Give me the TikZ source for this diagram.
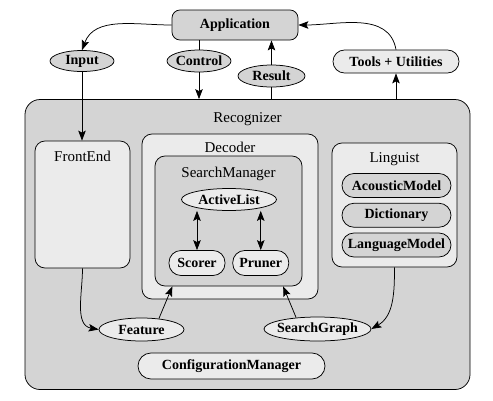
\documentclass[tikz,border=0pt]{standalone}
\usepackage{fontspec}
\setmainfont{Liberation Serif}
\usetikzlibrary{arrows.meta,positioning,calc,shapes.geometric}

\definecolor{darkfill}{gray}{0.83}
\definecolor{litefill}{gray}{0.92}

\begin{document}
\begin{tikzpicture}[x=1pt, y=-1pt, ->, >={Stealth[length=10pt,width=7.5pt,inset=2pt]}, line width=0.75pt, node distance=5pt]
		\tikzstyle{pane}=[draw, rectangle, rounded corners=10pt, fill=litefill]
		\tikzstyle{title}=[anchor=north, yshift=-7pt, font=\fontsize{15}{17}\selectfont]
		\tikzstyle{blob}=[draw, ellipse, inner xsep=-4pt, inner ysep=0pt, fill=darkfill, font=\bfseries\fontsize{14}{16}\selectfont]
		\tikzstyle{pill}=[draw, rectangle, rounded corners=12pt, fill=darkfill, font=\bfseries\fontsize{14}{16}\selectfont]
		\useasboundingbox (0,0) rectangle (493,400);
		% containers
		\node[pane, rounded corners=15pt, fill=darkfill, minimum width=445pt, minimum height=290pt,
			label={[title, yshift=-3pt]north:Recognizer}] (rec) at (247.5,244.5) {};
		\node[pane, minimum width=95pt, minimum height=127pt, label={[title]north:FrontEnd}] (fe) at (82.5,204.5) {};
		\node[pane, minimum width=176pt, minimum height=165pt, label={[title, yshift=2pt]north:Decoder}] (dec) at (230,216.5) {};
		\node[pane, fill=darkfill, minimum width=147pt, minimum height=130pt, label={[title, yshift=-1pt]north:SearchManager}] (sm) at (228.5,221) {};
		\node[pane, minimum width=125pt, minimum height=124pt, label={[title, yshift=1pt]north:Linguist}] (ling) at (394.5,205) {};
		% top row
		\node[pill, rounded corners=8pt, minimum width=126pt, minimum height=30pt] (app) at (235,25) {Application};
		\node[blob, minimum width=64pt, minimum height=21pt] (input) at (82,61) {Input};
		\node[blob, minimum width=64pt, minimum height=22pt] (control) at (199,61) {Control};
		\node[blob, minimum width=67pt, minimum height=22pt] (result) at (271.5,76) {Result};
		\node[pill, fill=litefill, rounded corners=11.5pt, minimum width=126pt, minimum height=23pt] (tools) at (396,61.5) {Tools + Utilities};
		% search manager
		\node[blob, fill=litefill, minimum width=95pt, minimum height=22pt] (al) at (229,199.5) {ActiveList};
		\node[pill, fill=litefill, minimum width=56pt, minimum height=25pt] (scorer) at (197,263) {Scorer};
		\node[pill, fill=litefill, minimum width=56pt, minimum height=25pt] (pruner) [right = 7pt of scorer] {Pruner};
		% linguist
		\node[pill, minimum width=109pt, minimum height=24pt] (am) at (396.5,185.5) {AcousticModel};
		\node[pill, minimum width=109pt, minimum height=24pt] (dict) [below = of am] {Dictionary};
		\node[pill, minimum width=109pt, minimum height=24pt] (lm) [below = of dict] {LanguageModel};
		% bottom row
		\node[blob, fill=litefill, minimum width=85pt, minimum height=23pt] (feat) at (141.5,329.5) {Feature};
		\node[blob, fill=litefill, minimum width=107pt, minimum height=24pt] (sg) at (317.5,329) {SearchGraph};
		\node[pill, fill=litefill, rounded corners=13pt, minimum width=187pt, minimum height=26pt] (cm) at (231.5,366) {ConfigurationManager};
		\path
		(app.west) edge[out=180, in=70] (input.north)
		(control.south) edge (control.south |- rec.north)
		(result.north) edge (result.north |- app.south)
		(tools.south |- rec.north) edge (tools.south)
		(tools.north) edge[out=100, in=0] (app.east)
		(input.south) edge (input.south |- fe.north)
		(fe.south) edge[out=-90, in=170] (feat.west)
		(feat.32) edge ($(sm.south west)!0.12!(sm.south east)$)
		(sg.152) edge ($(sm.south west)!0.87!(sm.south east)$)
		(ling.south) edge[out=-90, in=30] (sg.east);
		\path[<->]
		(scorer.north) edge (scorer.north |- al.south)
		(pruner.north) edge (pruner.north |- al.south);
		\path[-]
		(control.north) edge (control.north |- app.south)
		(result.south) edge (result.south |- rec.north);
	\end{tikzpicture}
\end{document}
